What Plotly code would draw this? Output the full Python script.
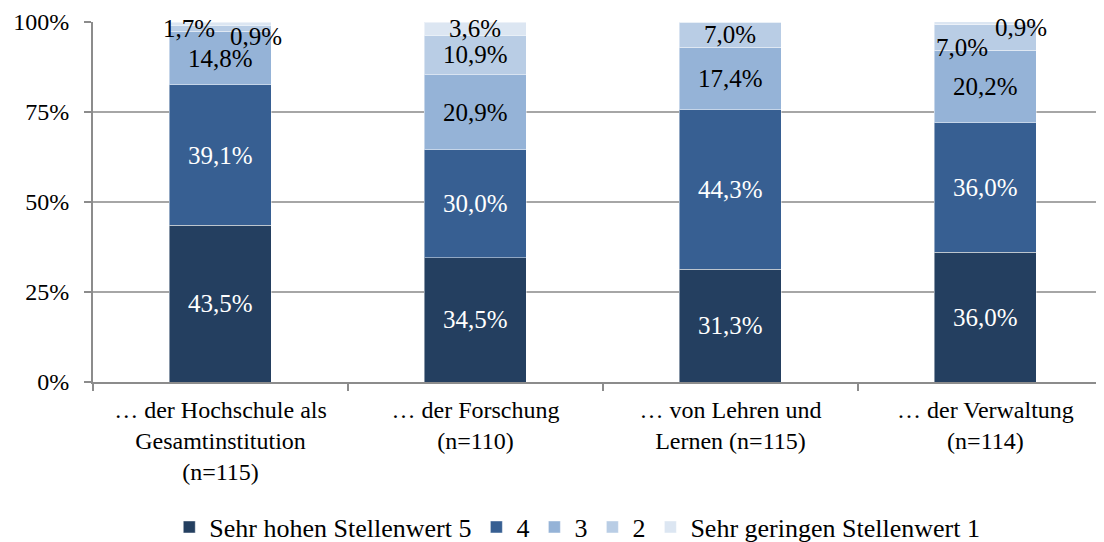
import plotly.graph_objects as go

categories = [
    "… der Hochschule als<br>Gesamtinstitution<br>(n=115)",
    "… der Forschung<br>(n=110)",
    "… von Lehren und<br>Lernen (n=115)",
    "… der Verwaltung<br>(n=114)",
]
series_names = ["Sehr hohen Stellenwert 5", "4", "3", "2", "Sehr geringen Stellenwert 1"]
values_5 = [43.5, 34.5, 31.3, 36.0]
values_4 = [39.1, 30.0, 44.3, 36.0]
values_3 = [14.8, 20.9, 17.4, 20.2]
values_2 = [1.7, 10.9, 7.0, 7.0]
values_1 = [0.9, 3.6, 0.0, 0.9]
y_tick_values = [0, 25, 50, 75, 100]
y_tick_labels = ["0%", "25%", "50%", "75%", "100%"]

all_values = [values_5, values_4, values_3, values_2, values_1]
colors = ["#243F60", "#375F92", "#95B3D7", "#B9CDE5", "#DCE6F2"]
text_colors = ["white", "white", "black", "black", "black"]
# label offsets (pixels) for crowded small segments: (category index, series index) -> (dx, dy)
label_shift = {(0, 3): (-31, 0), (0, 4): (36, -13), (3, 3): (-23, -10), (3, 4): (36, -4)}

FONT = "Liberation Serif"
FS = 24

fig = go.Figure()
for name, vals, col in zip(series_names, all_values, colors):
    fig.add_trace(go.Bar(
        x=categories, y=vals, name=name, width=0.4,
        marker=dict(color=col, line=dict(color="rgba(255,255,255,0.45)", width=1)),
        hoverinfo="skip",
    ))

annotations = []
for ci, cat in enumerate(categories):
    base = 0.0
    for si, vals in enumerate(all_values):
        v = vals[ci]
        if v > 0:
            dx, dy = label_shift.get((ci, si), (0, 0))
            annotations.append(dict(
                x=cat, y=base + v / 2, xref="x", yref="y",
                text=f"{v:.1f}%".replace(".", ","), showarrow=False,
                xshift=dx, yshift=dy,
                font=dict(family=FONT, size=25, color=text_colors[si]),
            ))
        base += v

fig.update_layout(
    barmode="stack",
    width=1104, height=542,
    margin=dict(l=85, r=8, t=14, b=168, autoexpand=False),
    paper_bgcolor="white", plot_bgcolor="white",
    font=dict(family=FONT, size=FS, color="black"),
    annotations=annotations,
    legend=dict(orientation="h", x=0.479, xanchor="center", y=-0.403, yanchor="middle",
                font=dict(family=FONT, size=26, color="black"), traceorder="normal",
                itemwidth=30, tracegroupgap=0),
    bargap=0.6,
)
fig.update_xaxes(
    type="category", range=[-0.5, 3.465], automargin=False,
    showline=True, linecolor="#8C8C8C", linewidth=2,
    ticks="outside", tickson="boundaries", ticklen=7, tickcolor="#8C8C8C", tickwidth=2,
    tickfont=dict(family=FONT, size=FS, color="black"),
    ticklabelstandoff=5,
    showgrid=False,
)
fig.update_yaxes(
    range=[0, 100], tickvals=y_tick_values, ticktext=y_tick_labels, automargin=False,
    showline=True, linecolor="#8C8C8C", linewidth=2,
    ticks="outside", ticklen=7, tickcolor="#8C8C8C", tickwidth=2,
    ticklabelstandoff=10,
    showgrid=True, gridcolor="#A6A6A6", gridwidth=1.5,
    tickfont=dict(family=FONT, size=FS, color="black"),
    zeroline=False,
)

fig.write_html("out.html")
